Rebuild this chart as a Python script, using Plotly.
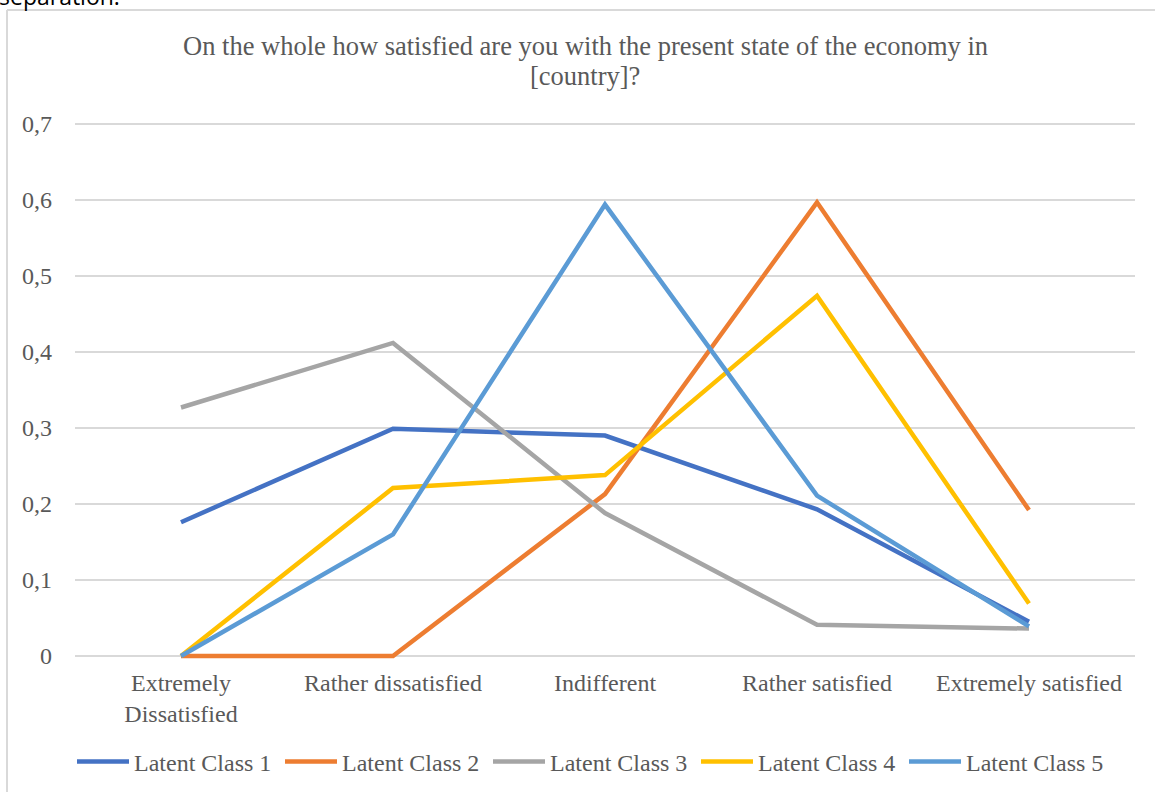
import plotly.graph_objects as go

categories = ["Extremely<br>Dissatisfied", "Rather dissatisfied", "Indifferent",
              "Rather satisfied", "Extremely satisfied"]
class_1 = [0.176, 0.299, 0.290, 0.193, 0.045]
class_2 = [0.0, 0.0, 0.213, 0.597, 0.192]
class_3 = [0.327, 0.412, 0.188, 0.041, 0.036]
class_4 = [0.0, 0.221, 0.238, 0.474, 0.069]
class_5 = [0.0, 0.160, 0.594, 0.211, 0.039]
series_names = ["Latent Class 1", "Latent Class 2", "Latent Class 3",
                "Latent Class 4", "Latent Class 5"]
y_ticks = [0, 0.1, 0.2, 0.3, 0.4, 0.5, 0.6, 0.7]
y_tick_labels = ["0", "0,1", "0,2", "0,3", "0,4", "0,5", "0,6", "0,7"]
title_lines = ["On the whole how satisfied are you with the present state of the economy in",
               "[country]?"]

colors = ["#4472C4", "#ED7D31", "#A5A5A5", "#FFC000", "#5B9BD5"]
font_family = "Liberation Serif, Times New Roman, serif"
text_color = "#595959"

W, H = 1155, 793
Y_LO, Y_HI = -0.004, 0.704   # small pad so the 0 and 0,7 gridlines are kept
PX_PER_UNIT = 760            # 0 sits at row 656, 0,7 at row 124
L, R = 75, 20
T = round(124 - (Y_HI - 0.7) * PX_PER_UNIT)
B = round(H - 656 + Y_LO * PX_PER_UNIT)
PW, PH = W - L - R, H - T - B


def px(p):
    # pixel column -> paper fraction
    return (p - L) / PW


def py(p):
    # pixel row -> paper fraction
    return (H - B - p) / PH


fig = go.Figure()
for name, vals, col in zip(series_names, [class_1, class_2, class_3, class_4, class_5], colors):
    fig.add_trace(go.Scatter(
        x=categories, y=vals, name=name, mode="lines",
        line=dict(color=col, width=4.5),
    ))

# chart frame: left and top edges
frame = dict(color="#D9D9D9", width=2)
fig.add_shape(type="line", xref="paper", yref="paper", layer="above",
              x0=px(7), x1=px(7), y0=py(H - 1), y1=py(10), line=frame)
fig.add_shape(type="line", xref="paper", yref="paper", layer="above",
              x0=px(7), x1=px(W), y0=py(10), y1=py(10), line=frame)

# text running in from above the frame
fig.add_annotation(text="separation.", xref="paper", yref="paper",
                   x=px(-3), y=py(14), xanchor="left", yanchor="bottom", showarrow=False,
                   font=dict(family="Open Sans, sans-serif", size=23, color="#000000"))

# two-line chart title
for txt, row in zip(title_lines, [46, 76]):
    fig.add_annotation(text=txt, xref="paper", yref="paper",
                       x=px(585), y=py(row), xanchor="center", yanchor="middle",
                       showarrow=False,
                       font=dict(family=font_family, size=26.5, color=text_color))

fig.update_layout(
    width=W, height=H,
    margin=dict(l=L, r=R, t=T, b=B, autoexpand=False),
    paper_bgcolor="white", plot_bgcolor="white",
    font=dict(family=font_family, color=text_color, size=24),
    xaxis=dict(
        range=[-0.5, 4.5], automargin=False,
        showgrid=False, showline=False, zeroline=False, ticks="",
        tickfont=dict(family=font_family, size=24, color=text_color),
        ticklabelstandoff=7,
    ),
    yaxis=dict(
        range=[Y_LO, Y_HI], tickvals=y_ticks, ticktext=y_tick_labels, automargin=False,
        showgrid=True, gridcolor="#D9D9D9", gridwidth=1.5,
        zeroline=False, showline=False, ticks="",
        tickfont=dict(family=font_family, size=24, color=text_color),
        ticklabelstandoff=22,
    ),
    legend=dict(
        orientation="h", xref="container", yref="container",
        x=72 / W, xanchor="left",
        y=1 - 762 / H, yanchor="middle",
        font=dict(family=font_family, size=24, color=text_color),
        itemwidth=52, entrywidth=141, tracegroupgap=0,
    ),
    showlegend=True,
)

fig.write_html("out.html")
